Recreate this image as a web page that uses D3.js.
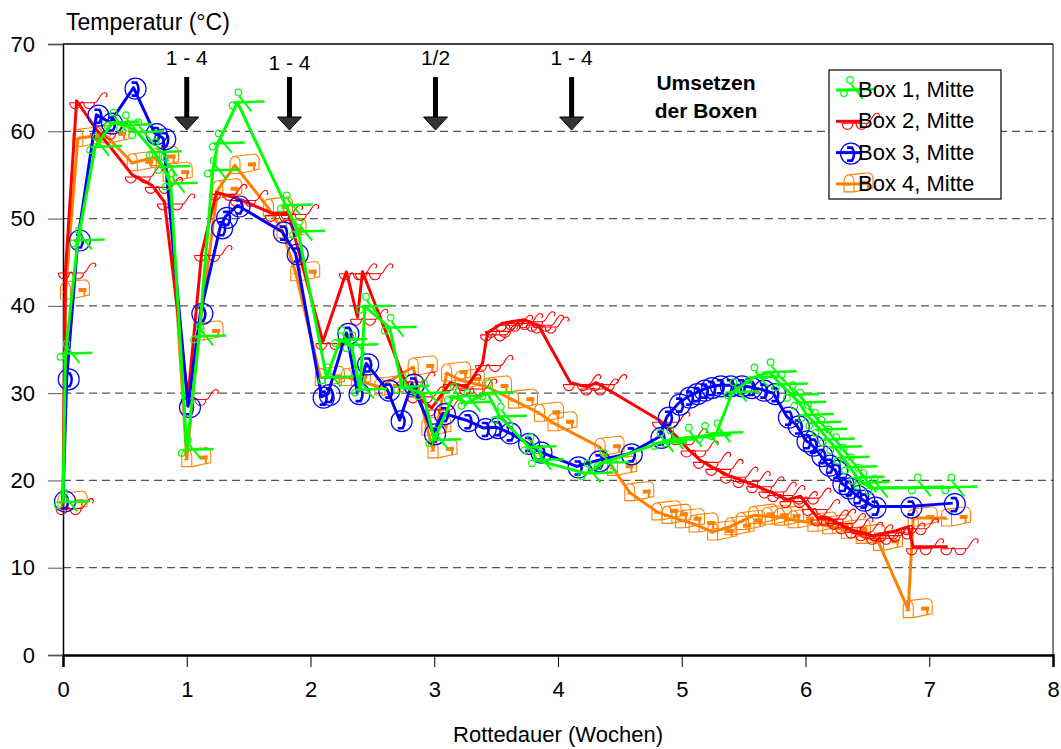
<!DOCTYPE html>
<html>
<head>
<meta charset="utf-8">
<script src="https://cdn.jsdelivr.net/npm/d3@7"></script>
<style>
  body { margin: 0; background: #fff; }
  text { font-family: "Liberation Sans", Arial, sans-serif; }
</style>
</head>
<body>
<svg id="chart" width="1061" height="749"></svg>
<script>
// Rottedauer in Wochen / Temperatur in °C
var box1Weeks = [0, 0.02, 0.12, 0.26, 0.40, 0.50, 0.60, 0.74, 0.81, 0.87, 1.00, 1.10, 1.21, 1.25, 1.41, 1.80, 1.90, 2.13, 2.24, 2.33, 2.40, 2.44, 2.64, 2.74, 2.91, 3.00, 3.15, 3.26, 3.43, 3.53, 3.77, 3.83, 4.23, 4.36, 4.82, 4.90, 5.05, 5.18, 5.28, 5.41, 5.58, 5.71, 5.80, 5.89, 5.95, 6.01, 6.07, 6.12, 6.18, 6.24, 6.30, 6.36, 6.42, 6.46, 6.55, 6.90, 7.17];
var box1Temps = [17.5, 34.5, 47.5, 58.2, 61, 60.7, 59.9, 57.6, 55.9, 54, 23.5, 36.5, 55.5, 58.6, 63.3, 51.5, 48.5, 31.8, 36.1, 35.5, 30.4, 39.9, 37.5, 30.7, 30.0, 24.6, 29.6, 28.9, 30, 27.3, 23.8, 22.3, 20.8, 22, 24.3, 24.6, 24.9, 25.1, 25.4, 30.1, 31.8, 32.4, 31.0, 29.8, 28.9, 27.5, 26.6, 25.8, 24.7, 23.8, 22.6, 21.5, 20.3, 19.7, 19.1, 19.2, 19.2];

var box2Weeks = [0, 0.02, 0.11, 0.28, 0.56, 0.72, 0.82, 1.01, 1.12, 1.24, 1.41, 1.69, 1.82, 2.10, 2.29, 2.38, 2.42, 2.76, 2.84, 2.98, 3.13, 3.26, 3.39, 3.43, 3.47, 3.55, 3.63, 3.73, 3.80, 3.84, 4.10, 4.24, 4.31, 4.82, 4.96, 5.05, 5.15, 5.25, 5.37, 5.47, 5.58, 5.68, 5.75, 5.85, 5.96, 6.03, 6.10, 6.16, 6.24, 6.30, 6.38, 6.46, 6.55, 6.62, 6.72, 6.83, 6.87, 7.15];
var box2Temps = [17, 44, 63.5, 60, 55, 53.8, 51.9, 29.5, 46, 53, 52.3, 50.6, 50.7, 35.9, 43.9, 38.7, 43.9, 31.5, 29.8, 28.3, 31.2, 30.7, 33.4, 36.9, 37.3, 38.0, 38.2, 38.4, 38.0, 37.8, 31.2, 30.7, 31.2, 26.9, 25.0, 23.6, 22.3, 21.5, 20.6, 20.1, 19.5, 18.9, 18.5, 17.8, 18.2, 16.9, 15.7, 15.8, 15.3, 14.8, 14.3, 14.0, 13.6, 13.9, 14.2, 14.7, 12.4, 12.4];

var box3Weeks = [0, 0.03, 0.12, 0.27, 0.38, 0.57, 0.74, 0.81, 1.01, 1.11, 1.27, 1.31, 1.41, 1.77, 1.88, 2.09, 2.14, 2.29, 2.38, 2.45, 2.62, 2.72, 2.82, 2.99, 3.07, 3.26, 3.40, 3.50, 3.60, 3.75, 3.85, 4.15, 4.32, 4.58, 4.82, 4.88, 4.97, 5.05, 5.11, 5.17, 5.23, 5.30, 5.38, 5.47, 5.55, 5.65, 5.74, 5.85, 5.93, 6.00, 6.05, 6.12, 6.18, 6.24, 6.29, 6.34, 6.41, 6.46, 6.55, 6.84, 7.19];
var box3Temps = [17.7, 31.7, 47.6, 61.9, 61, 65, 59.8, 59.2, 28.5, 39.2, 49, 50.2, 51.5, 48.5, 46, 29.6, 29.9, 36.9, 30, 33.4, 30.4, 26.9, 31.1, 25.4, 27.7, 26.9, 26.0, 26.1, 25.5, 24.3, 23.3, 21.6, 22.3, 23.1, 25, 27.3, 28.8, 29.6, 30.0, 30.4, 30.7, 30.9, 30.9, 30.9, 30.7, 30.4, 30.0, 27.3, 26.3, 24.6, 24.1, 22.9, 21.8, 21.2, 19.7, 19.2, 18.3, 17.8, 17.0, 17.0, 17.4];

var box4Weeks = [0, 0.02, 0.12, 0.34, 0.56, 0.74, 0.85, 1.00, 1.10, 1.25, 1.39, 1.66, 1.77, 1.88, 2.08, 2.29, 2.56, 2.83, 2.94, 2.99, 3.10, 3.21, 3.43, 3.64, 3.85, 3.96, 4.34, 4.44, 4.58, 4.80, 4.88, 4.99, 5.10, 5.25, 5.39, 5.48, 5.58, 5.69, 5.79, 5.90, 6.06, 6.18, 6.33, 6.45, 6.59, 6.83, 6.87, 7.14];
var box4Temps = [17.5, 41.7, 59.2, 59.6, 56.4, 57, 55.2, 22.5, 37, 53.3, 56.1, 51.2, 48.7, 43.8, 31.8, 31.8, 30.7, 33, 26.1, 23.5, 32.3, 31.5, 30.7, 29.2, 27.7, 26.6, 23.8, 21.5, 18.6, 16.4, 16.0, 15.5, 15.0, 14.1, 14.7, 15.3, 16.0, 15.9, 15.8, 15.5, 15.1, 14.8, 14.3, 13.7, 12.9, 5.2, 15.7, 15.7];

var seriesNames = ["Box 1, Mitte", "Box 2, Mitte", "Box 3, Mitte", "Box 4, Mitte"];
var seriesColors = ["#00ff00", "#ff0000", "#0000ff", "#ff8000"];
var seriesMarkers = ["scissors", "glasses", "phone", "mailbox"];

// Umsetzen der Boxen (Pfeile)
var turnWeeks = [1.0, 1.83, 3.01, 4.11];
var turnLabels = ["1 - 4", "1 - 4", "1/2", "1 - 4"];

var xTicks = [0, 1, 2, 3, 4, 5, 6, 7, 8];
var yTicks = [0, 10, 20, 30, 40, 50, 60, 70];

var svg = d3.select("#chart");
var plotLeft = 63, plotRight = 1053, plotTop = 44, plotBottom = 655;

var x = d3.scaleLinear().domain([0, 8]).range([plotLeft, plotRight]);
var y = d3.scaleLinear().domain([0, 70]).range([plotBottom, plotTop]);

// gridlines
svg.append("g").selectAll("line")
    .data(yTicks.filter(function(d) { return d > 0 && d < 70; }))
    .enter().append("line")
    .attr("x1", plotLeft).attr("x2", plotRight)
    .attr("y1", function(d) { return y(d); })
    .attr("y2", function(d) { return y(d); })
    .style("stroke", "#555")
    .style("stroke-width", 1.3)
    .style("stroke-dasharray", "8,5");

// frame top / right
svg.append("line").attr("x1", plotLeft).attr("x2", plotRight).attr("y1", plotTop).attr("y2", plotTop)
    .style("stroke", "#000").style("stroke-width", 1.5);
svg.append("line").attr("x1", plotRight).attr("x2", plotRight).attr("y1", plotTop).attr("y2", plotBottom)
    .style("stroke", "#000").style("stroke-width", 1);

// axes
var xAxis = svg.append("g")
    .attr("transform", "translate(0," + plotBottom + ")")
    .call(d3.axisBottom(x).tickValues(xTicks).tickSize(12).tickPadding(14).tickFormat(d3.format("d")));
var yAxis = svg.append("g")
    .attr("transform", "translate(" + plotLeft + ",0)")
    .call(d3.axisLeft(y).tickValues(yTicks).tickSize(15).tickPadding(13).tickFormat(d3.format("d")));

xAxis.select(".domain").style("stroke-width", 2.5);
yAxis.select(".domain").style("stroke-width", 1.5);
[xAxis, yAxis].forEach(function(a) {
    a.selectAll("text").style("font-size", "22px").style("font-family", "Liberation Sans, Arial, sans-serif").attr("fill", "#000");
    a.selectAll(".tick line").style("stroke", "#000");
});
yAxis.selectAll(".tick line").style("stroke", "#555");

svg.append("text").attr("x", 66).attr("y", 30)
    .style("font-size", "23px").text("Temperatur (°C)");
svg.append("text").attr("x", 558).attr("y", 742).attr("text-anchor", "middle")
    .style("font-size", "22px").text("Rottedauer (Wochen)");

// marker glyphs, drawn relative to a point
function drawMarker(g, kind, color) {
    if (kind === "scissors") {
        g.append("line").attr("x1", -4).attr("y1", 0).attr("x2", 27).attr("y2", -1)
            .style("stroke", color).style("stroke-width", 2.5);
        g.append("line").attr("x1", 2).attr("y1", -6).attr("x2", 14).attr("y2", 9)
            .style("stroke", color).style("stroke-width", 2);
        g.append("circle").attr("cx", 1).attr("cy", -10).attr("r", 3.3)
            .style("fill", "none").style("stroke", color).style("stroke-width", 1.2);
        g.append("circle").attr("cx", -5).attr("cy", 3).attr("r", 3.3)
            .style("fill", "none").style("stroke", color).style("stroke-width", 1.2);
    } else if (kind === "glasses") {
        g.append("path")
            .attr("d", "M-7,2 L18,2 M-7,2 A5.5,6 0 0 0 4,2 M7,2 A5.5,6 0 0 0 18,2 M4,2 Q5.5,0 7,2 M18,2 C22,2 23,-8 28,-8 C31,-8 31,-4 29,-4")
            .style("fill", "none").style("stroke", color).style("stroke-width", 1.1);
    } else if (kind === "phone") {
        g.append("circle").attr("cx", 2).attr("cy", 1).attr("r", 10.5)
            .style("fill", "none").style("stroke", color).style("stroke-width", 1.2);
        g.append("path").attr("d", "M-2,-5 L3,-5 Q7,1 3,8 L-2,8")
            .style("fill", "none").style("stroke", color).style("stroke-width", 2.6);
    } else if (kind === "mailbox") {
        g.append("path")
            .attr("d", "M-5,8 V-3 A5,6 0 0 1 5,-3 V8 Z M0,-9 L18,-11 A5,6 0 0 1 24,-4 V4 L5,8 M-3,1 H2")
            .style("fill", "none").style("stroke", color).style("stroke-width", 1.1);
        g.append("rect").attr("x", 13).attr("y", -3).attr("width", 8).attr("height", 4)
            .style("fill", color);
        g.append("line").attr("x1", 19).attr("y1", -3).attr("x2", 19).attr("y2", 5)
            .style("stroke", color).style("stroke-width", 2);
    }
}

var allWeeks = [box1Weeks, box2Weeks, box3Weeks, box4Weeks];
var allTemps = [box1Temps, box2Temps, box3Temps, box4Temps];
var drawOrder = [3, 1, 2, 0];

var line = d3.line()
    .x(function(d) { return x(d[0]); })
    .y(function(d) { return y(d[1]); });

drawOrder.forEach(function(i) {
    var pts = allWeeks[i].map(function(w, j) { return [w, allTemps[i][j]]; });
    var g = svg.append("g");
    g.append("path").datum(pts)
        .attr("d", line)
        .style("fill", "none")
        .style("stroke", seriesColors[i])
        .style("stroke-width", 3)
        .style("stroke-linejoin", "round");
    g.selectAll("g.mk").data(pts).enter().append("g")
        .attr("class", "mk")
        .attr("transform", function(d) { return "translate(" + x(d[0]) + "," + y(d[1]) + ")"; })
        .each(function() { drawMarker(d3.select(this), seriesMarkers[i], seriesColors[i]); });
});

// arrows
var arrows = svg.append("g").selectAll("g").data(turnWeeks).enter().append("g")
    .attr("transform", function(d) { return "translate(" + x(d) + ",0)"; });
arrows.append("rect").attr("x", -2.5).attr("y", 77).attr("width", 5).attr("height", 41).style("fill", "#000");
arrows.append("path").attr("d", "M-12,117 L12,117 L0,130 Z")
    .style("fill", "#333").style("stroke", "#000").style("stroke-width", 1);
arrows.append("text")
    .attr("y", function(d, i) { return i === 1 ? 70 : 65; })
    .attr("text-anchor", "middle")
    .style("font-size", "21px")
    .text(function(d, i) { return turnLabels[i]; });

svg.append("text").attr("x", 706).attr("y", 90).attr("text-anchor", "middle")
    .style("font-size", "21px").style("font-weight", "bold").text("Umsetzen");
svg.append("text").attr("x", 706).attr("y", 118).attr("text-anchor", "middle")
    .style("font-size", "21px").style("font-weight", "bold").text("der Boxen");

// legend
var legend = svg.append("g").attr("transform", "translate(829,70)");
legend.append("rect").attr("width", 172).attr("height", 129)
    .style("fill", "#fff").style("stroke", "#000").style("stroke-width", 1.2);
var items = legend.selectAll("g.item").data(seriesNames).enter().append("g")
    .attr("class", "item")
    .attr("transform", function(d, i) { return "translate(0," + (20 + i * 31.3) + ")"; });
items.append("line").attr("x1", 7).attr("x2", 33).attr("y1", 0).attr("y2", 0)
    .style("stroke", function(d, i) { return seriesColors[i]; })
    .style("stroke-width", 3);
items.each(function(d, i) {
    var m = d3.select(this).append("g").attr("transform", "translate(20,0)");
    drawMarker(m, seriesMarkers[i], seriesColors[i]);
});
items.append("text").attr("x", 29).attr("y", 7)
    .style("font-size", "22px")
    .text(function(d) { return d; });
</script>
</body>
</html>
